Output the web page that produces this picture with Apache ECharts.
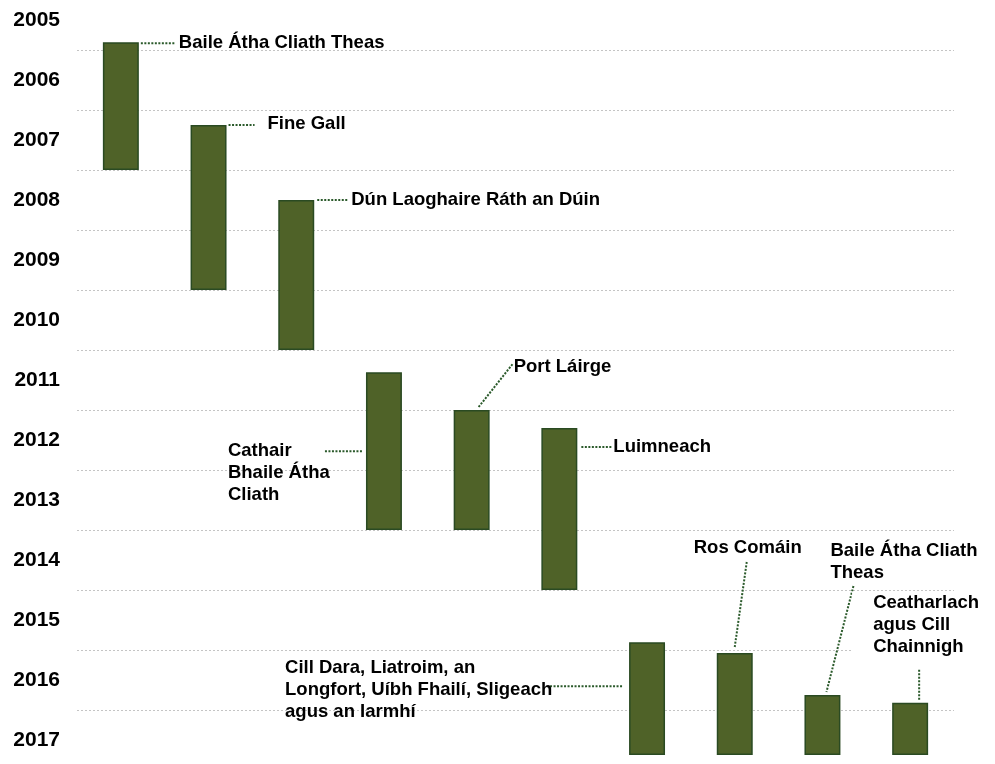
<!DOCTYPE html>
<html>
<head>
<meta charset="utf-8">
<title>Timeline</title>
<script src="https://cdn.jsdelivr.net/npm/echarts@6/dist/echarts.min.js"></script>
<style>
  html, body { margin: 0; padding: 0; background: #fff; }
  #main { width: 995px; height: 764px; }
</style>
</head>
<body>
<div id="main"></div>
<script>
// year bands shown down the left side
var years = ['2005', '2006', '2007', '2008', '2009', '2010', '2011', '2012', '2013', '2014', '2015', '2016', '2017'];

// one bar per council, in time order
var councils = [
	'Baile Átha Cliath Theas',
	'Fine Gall',
	'Dún Laoghaire Ráth an Dúin',
	'Cathair\nBhaile Átha\nCliath',
	'Port Láirge',
	'Luimneach',
	'Cill Dara, Liatroim, an\nLongfort, Uíbh Fhailí, Sligeach\nagus an Iarmhí',
	'Ros Comáin',
	'Baile Átha Cliath\nTheas',
	'Ceatharlach\nagus Cill\nChainnigh'
];
var startYear = [2005.87, 2007.25, 2008.5, 2011.37, 2012.0, 2012.3, 2015.87, 2016.05, 2016.75, 2016.88];
var endYear = [2008.0, 2010.0, 2011.0, 2014.0, 2014.0, 2015.0, 2017.75, 2017.75, 2017.75, 2017.75];

// label placement relative to the top centre of each bar:
// [line x1, y1, x2, y2, text x, text y, vertical align]
var labelPlace = [
	[20, 1, 55, 1, 58, 1, 'middle'],
	[20, 0, 46, 0, 59, -1, 'middle'],
	[21, 0, 51, 0, 55, 0, 'middle'],
	[-59, 79, -22, 79, -156, 68, 'top'],
	[7, -3, 41, -46, 42, -43, 'middle'],
	[22, 19, 52, 19, 54, 19, 'middle'],
	[-97, 44, -25, 44, -362, 15, 'top'],
	[12, -91, 0, -6, -41, -105, 'middle'],
	[31, -109, 4, -3, 8, -155, 'top'],
	[9, -33, 9, -3, -37, -111, 'top']
];

var fontFamily = '"Liberation Sans", Arial, sans-serif';
var barColor = '#4F6228';
var leaderColor = '#2B5A2B';

var baseData = [];
var spanData = [];
var labelData = [];
for (var i = 0; i < councils.length; i++) {
	baseData.push(startYear[i]);
	spanData.push(+(endYear[i] - startYear[i]).toFixed(2));
	labelData.push([i, startYear[i]]);
}

var chart = echarts.init(document.getElementById('main'));
var option = {
	animation: false,
	backgroundColor: '#fff',
	grid: {
		left: 77,
		right: 41,
		top: -10,
		bottom: -6,
		containLabel: false,
		outerBoundsMode: 'none'
	},
	xAxis: [{
		type: 'category',
		data: councils,
		axisLine: { show: false },
		axisTick: { show: false },
		axisLabel: { show: false },
		splitLine: { show: false }
	}],
	yAxis: [{
		type: 'category',
		data: years,
		inverse: true,
		boundaryGap: true,
		axisLine: { show: false },
		axisTick: { show: false },
		axisLabel: {
			margin: 17,
			color: '#000',
			fontWeight: 'bold',
			fontSize: 21,
			fontFamily: fontFamily
		},
		splitLine: {
			show: true,
			lineStyle: { color: '#C4C4C4', width: 1, type: [2, 2] }
		}
	}, {
		type: 'value',
		show: false,
		inverse: true,
		min: 2005,
		max: 2018,
		splitLine: { show: false }
	}],
	series: [{
		name: 'base',
		type: 'bar',
		stack: 'span',
		yAxisIndex: 1,
		silent: true,
		barWidth: '41%',
		itemStyle: { color: 'transparent' },
		data: baseData
	}, {
		name: 'span',
		type: 'bar',
		stack: 'span',
		yAxisIndex: 1,
		barWidth: '41%',
		itemStyle: {
			color: barColor,
			borderColor: '#2A4A22',
			borderWidth: 1.5
		},
		data: spanData
	}, {
		name: 'labels',
		type: 'custom',
		yAxisIndex: 1,
		silent: true,
		z: 5,
		data: labelData,
		renderItem: function (params, api) {
			var idx = api.value(0);
			var p = api.coord([idx, api.value(1)]);
			var lp = labelPlace[idx];
			var isBoxed = idx === councils.length - 1;
			var pad = isBoxed ? [0, 30, 4, 21] : 0;
			return {
				type: 'group',
				children: [{
					type: 'line',
					shape: {
						x1: p[0] + lp[0], y1: p[1] + lp[1],
						x2: p[0] + lp[2], y2: p[1] + lp[3]
					},
					style: {
						stroke: leaderColor,
						lineWidth: 2,
						lineDash: [2, 1.5]
					}
				}, {
					type: 'text',
					x: p[0] + lp[4] - (isBoxed ? 21 : 0),
					y: p[1] + lp[5],
					style: {
						text: councils[idx],
						fill: '#000',
						font: 'bold 18.5px ' + fontFamily,
						align: 'left',
						verticalAlign: lp[6],
						lineHeight: 22,
						backgroundColor: isBoxed ? '#fff' : null,
						padding: pad
					}
				}]
			};
		}
	}]
};
chart.setOption(option);
</script>
</body>
</html>
